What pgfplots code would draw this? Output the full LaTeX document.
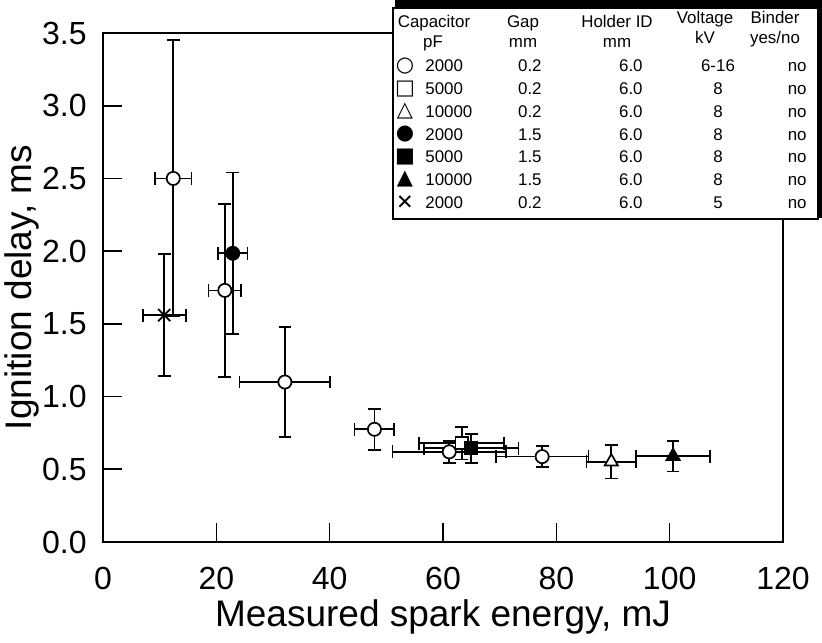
\documentclass[border=0pt]{standalone}
\usepackage{fontspec}
\setmainfont{Liberation Sans}
\newfontfamily\symfont{DejaVu Sans}
\usepackage{pgfplots}
\pgfplotsset{compat=1.18}
\pgfplotsset{eb/.style={error bars/.cd, x dir=both, x explicit, y dir=both, y explicit,
   error mark=-, error bar style={line width=0.85pt, black, solid},
   error mark options={rotate=90, line width=0.85pt, mark size=3.2pt, black, solid}}}
\begin{document}
\begin{tikzpicture}
\useasboundingbox (-51.5pt,-50pt) rectangle (359.5pt,271pt);
\begin{axis}[
  at={(0pt,0pt)}, anchor=south west,
  scale only axis, width=340pt, height=254.5pt,
  xmin=0, xmax=120, ymin=0, ymax=3.5,
  xtick={0,20,40,60,80,100,120},
  ytick={0,0.5,1,1.5,2,2.5,3,3.5},
  tick pos=left, tick align=inside, major tick length=9.5pt,
  every tick/.style={black, line width=0.8pt},
  axis line style={line width=1.1pt},
  /pgf/number format/assume math mode=true,
  yticklabel style={/pgf/number format/.cd, fixed, fixed zerofill, precision=1, /tikz/.cd,
     anchor=east, inner sep=0pt, xshift=-8pt, font=\fontsize{16}{18}\selectfont},
  xticklabel style={anchor=center, inner sep=0pt, yshift=-18pt, font=\fontsize{16}{18}\selectfont},
  xlabel={Measured spark energy, mJ},
  ylabel={Ignition delay, ms},
  xlabel style={at={(axis description cs:0.5,-0.147)}, anchor=center, inner sep=0pt, font=\fontsize{18.5}{21}\selectfont},
  ylabel style={at={(axis description cs:-0.1191,0.5)}, anchor=center, inner sep=0pt, font=\fontsize{18.5}{21}\selectfont},
]
% open circles: 2000 pF, 0.2 mm
\addplot[only marks, mark=*, mark size=3.3pt, mark options={fill=white, draw=black, line width=0.85pt}, eb]
  coordinates {
  (12.4,2.50) +- (3.2,0.95)
  (21.5,1.73) +- (2.9,0.595)
  (32.1,1.10) +- (8.0,0.38)
  (47.9,0.775) +- (3.5,0.14)
  (61.1,0.62) +- (10.0,0.075)
  (77.5,0.587) +- (8.2,0.073)
  };
% open square: 5000 pF, 0.2 mm
\addplot[only marks, mark=square*, mark size=3.1pt, mark options={fill=white, draw=black, line width=0.85pt}, eb]
  coordinates {(63.3,0.68) +- (7.5,0.113)};
% open triangle: 10000 pF, 0.2 mm
\addplot[only marks, mark=triangle*, mark size=3.8pt, mark options={fill=white, draw=black, line width=0.85pt}, eb]
  coordinates {(89.7,0.552) +- (4.4,0.116)};
% filled circle: 2000 pF, 1.5 mm
\addplot[only marks, mark=*, mark size=3.3pt, mark options={fill=black, draw=black, line width=0.85pt}, eb]
  coordinates {(22.9,1.985) +- (2.6,0.555)};
% filled square: 5000 pF, 1.5 mm
\addplot[only marks, mark=square*, mark size=3.1pt, mark options={fill=black, draw=black, line width=0.85pt}, eb]
  coordinates {(65.0,0.644) +- (8.3,0.10)};
% filled triangle: 10000 pF, 1.5 mm
\addplot[only marks, mark=triangle*, mark size=3.8pt, mark options={fill=black, draw=black, line width=0.85pt}, eb]
  coordinates {(100.6,0.59) +- (6.5,0.105)};
% cross: 2000 pF, 0.2 mm, 5 kV
\addplot[only marks, mark=x, mark size=4.3pt, mark options={draw=black, line width=0.9pt}, eb]
  coordinates {(10.8,1.56) +- (3.8,0.42)};
\end{axis}
% legend table
\fill[black] (146pt,162pt) rectangle (365pt,275pt);
\draw[fill=white, line width=0.6pt] (145pt,161.5pt) rectangle (357.5pt,267pt);
\begin{scope}[every node/.style={inner sep=0pt, font=\fontsize{8.45}{10}\selectfont}]
\node[anchor=base] at (165.5pt,257pt) {Capacitor};
\node[anchor=base] at (165pt,247.3pt) {pF};
\node[anchor=base] at (210pt,257pt) {Gap};
\node[anchor=base] at (210pt,247.3pt) {mm};
\node[anchor=base] at (257pt,257pt) {Holder ID};
\node[anchor=base] at (257pt,247.3pt) {mm};
\node[anchor=base] at (301pt,259pt) {Voltage};
\node[anchor=base] at (301pt,249pt) {kV};
\node[anchor=base] at (336pt,259pt) {Binder};
\node[anchor=base] at (336pt,249pt) {yes/no};
\foreach \sym/\cap/\gap/\volt [count=\i from 0] in {
  {\symfont ○}/2000/0.2/6-16,
  {\symfont □}/5000/0.2/8,
  {\symfont △}/10000/0.2/8,
  {\symfont ●}/2000/1.5/8,
  {\symfont ■}/5000/1.5/8,
  {\symfont ▲}/10000/1.5/8,
  {\symfont ✕}/2000/0.2/5} {
  \pgfmathsetmacro{\yb}{235-11.35*\i}
  \node[anchor=center, font=\fontsize{10.5}{12}\selectfont] at (151pt,\yb pt+3pt) {\sym};
  \node[anchor=base west] at (161pt,\yb pt) {\cap};
  \node[anchor=base east] at (219.5pt,\yb pt) {\gap};
  \node[anchor=base east] at (270pt,\yb pt) {6.0};
  \node[anchor=base] at (307.5pt,\yb pt) {\volt};
  \node[anchor=base east] at (352pt,\yb pt) {no};
}
\end{scope}
\end{tikzpicture}
\end{document}
